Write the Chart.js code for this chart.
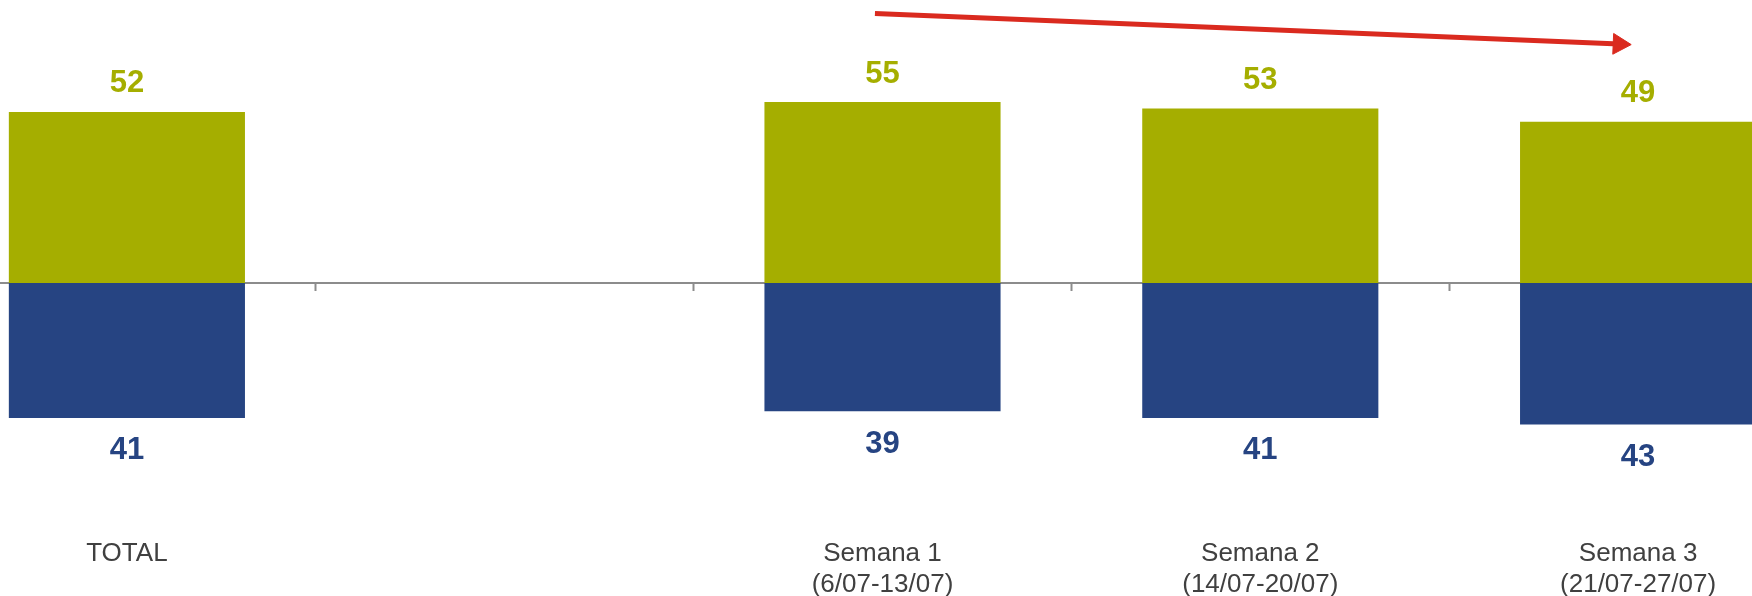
<!DOCTYPE html>
<html>
<head>
<meta charset="utf-8">
<script src="https://cdn.jsdelivr.net/npm/chart.js@4"></script>
<style>
  html, body { margin: 0; padding: 0; background: #fff; overflow: hidden; }
  #wrap { position: relative; width: 1752px; height: 596px; overflow: hidden; }
  /* plot is wider than the page: the outer half-categories are cut off like in the original */
  #chart { position: absolute; left: -62px; top: 0; }
</style>
</head>
<body>
<div id="wrap"><canvas id="chart" width="1889" height="596"></canvas></div>
<script>
// categories (second slot is an empty gap between TOTAL and the weeks)
const categories = ['TOTAL', '', ['Semana 1', '(6/07-13/07)'], ['Semana 2', '(14/07-20/07)'], ['Semana 3', '(21/07-27/07)']];
// upper (green) and lower (blue) values
const greenValues = [52, null, 55, 53, 49];
const blueValues = [41, null, 39, 41, 43];
// trend arrow, in category-index / value units
const arrowPoints = [{ x: 1.98, y: 81.9 }, { x: 3.95, y: 72.6 }];

const GREEN = '#A5AE00';
const BLUE = '#264482';
const RED = '#DA2A1F';

// draws the value labels above / below each bar
const valueLabels = {
  id: 'valueLabels',
  afterDatasetsDraw(chart) {
    const ctx = chart.ctx;
    ctx.save();
    ctx.font = 'bold 31px "Liberation Sans", Arial, sans-serif';
    ctx.textAlign = 'center';
    ctx.textBaseline = 'middle';
    [0, 1].forEach(di => {
      const meta = chart.getDatasetMeta(di);
      meta.data.forEach((bar, i) => {
        const v = chart.data.datasets[di].data[i];
        if (v === null) return;
        ctx.fillStyle = di === 0 ? GREEN : BLUE;
        const y = v >= 0 ? bar.y - 28 : bar.y + 33;
        ctx.fillText(String(Math.abs(v)), bar.x, y);
      });
    });
    ctx.restore();
  }
};

new Chart(document.getElementById('chart'), {
  type: 'bar',
  data: {
    labels: categories,
    datasets: [
      {
        type: 'bar',
        grouped: false,
        data: greenValues,
        backgroundColor: GREEN,
        barPercentage: 0.625,
        categoryPercentage: 1,
        xAxisID: 'x'
      },
      {
        type: 'bar',
        grouped: false,
        data: blueValues.map(v => v === null ? null : -v),
        backgroundColor: BLUE,
        barPercentage: 0.625,
        categoryPercentage: 1,
        xAxisID: 'x'
      },
      {
        type: 'line',
        data: arrowPoints,
        xAxisID: 'xl',
        borderColor: RED,
        borderWidth: 5,
        pointRadius: [0, 12],
        pointStyle: 'triangle',
        pointRotation: 92.4,
        pointBackgroundColor: RED,
        pointBorderColor: RED,
        pointBorderWidth: 1
      }
    ]
  },
  options: {
    responsive: false,
    animation: false,
    layout: { padding: 0, autoPadding: false },
    plugins: { legend: { display: false }, tooltip: { enabled: false } },
    scales: {
      // axis line through zero with tick marks between categories
      x: {
        type: 'category',
        position: { y: 0 },
        z: 1,
        offset: true,
        border: { display: true, color: '#8C8C8C', width: 2 },
        grid: { offset: true, drawOnChartArea: false, drawTicks: true, tickLength: 7, tickWidth: 2, tickColor: '#8C8C8C' },
        ticks: { display: false }
      },
      // category labels at the bottom
      x2: {
        type: 'category',
        position: 'bottom',
        offset: true,
        border: { display: false },
        grid: { display: false },
        ticks: {
          color: '#404040',
          padding: 14,
          maxRotation: 0,
          autoSkip: false,
          font: { family: '"Liberation Sans", Arial, sans-serif', size: 26, lineHeight: 1.2 }
        },
        afterFit: axis => { axis.height = 80; }
      },
      xl: { type: 'linear', display: false, offset: false, min: -0.5, max: 4.5 },
      y: { stacked: true, display: false, min: -70.8, max: 86 }
    }
  },
  plugins: [valueLabels]
});
</script>
</body>
</html>
